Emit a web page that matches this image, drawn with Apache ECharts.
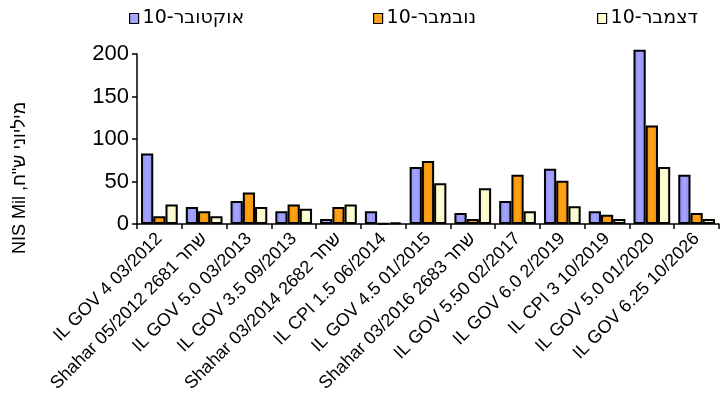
<!DOCTYPE html>
<html><head><meta charset="utf-8">
<script src="https://cdn.jsdelivr.net/npm/echarts@6/dist/echarts.min.js"></script>
<style>html,body{margin:0;padding:0;background:#fff}#c{width:722px;height:403px}</style>
</head><body><div id="c"></div>
<script>
var categories = [
  "IL GOV 4 03/2012",
  "Shahar 05/2012 2681 שחר",
  "IL GOV 5.0 03/2013",
  "IL GOV 3.5 09/2013",
  "Shahar 03/2014 2682 שחר",
  "IL CPI 1.5 06/2014",
  "IL GOV 4.5 01/2015",
  "Shahar 03/2016 2683 שחר",
  "IL GOV 5.50 02/2017",
  "IL GOV 6.0 2/2019",
  "IL CPI 3 10/2019",
  "IL GOV 5.0 01/2020",
  "IL GOV 6.25 10/2026"
];
var seriesNames = ["10-אוקטובר", "10-נובמבר", "10-דצמבר"];
var octValues = [83, 20, 27, 15, 6, 15, 67, 13, 27, 65, 15, 205, 58];
var novValues = [9, 15, 37, 23, 20, 0.5, 74, 6, 58, 51, 11, 116, 13];
var decValues = [23, 9, 20, 18, 23, 2, 48, 42, 15, 21, 6, 67, 6];
var yTicks = [0, 50, 100, 150, 200];
var yTitle = "NIS Mil ,מיליוני ש\"ח";

var colors = [["#8c8cf5", "#a5a5ff"], ["#f29100", "#ffa31a"], ["#f2f2c0", "#ffffd6"]];
var font = "'Liberation Sans', Arial, sans-serif";
var chart = echarts.init(document.getElementById('c'));
function legend(i, left) {
  return {
    data: [seriesNames[i]], left: left, top: 4, itemWidth: 9, itemHeight: 10,
    icon: 'rect', itemGap: 0,
    itemStyle: { color: colors[i][1], borderColor: '#000', borderWidth: 1.2 },
    textStyle: { fontFamily: "'DejaVu Sans', sans-serif", fontSize: 19, color: '#000', padding: [0, 0, 0, -1] }
  };
}
function grad(c) {
  return new echarts.graphic.LinearGradient(0, 0, 1, 0, [
    { offset: 0, color: c[0] }, { offset: 0.5, color: c[1] }, { offset: 1, color: c[0] }
  ]);
}
var vals = [octValues, novValues, decValues];
chart.setOption({
  animation: false,
  legend: [legend(0, 124), legend(1, 368), legend(2, 592)],
  grid: { left: 137, right: 3, top: 54, bottom: 179, containLabel: false },
  graphic: [{
    type: 'text', x: 20, y: 178, rotation: Math.PI / 2,
    style: { text: yTitle, align: 'center', verticalAlign: 'middle',
      font: "18px 'Liberation Sans', Arial, sans-serif", fill: '#000' }
  }],
  xAxis: {
    type: 'category', data: categories,
    axisLine: { lineStyle: { color: '#000', width: 1.5 } },
    axisTick: { show: true, length: 5, lineStyle: { color: '#000', width: 1.5 }, alignWithLabel: false },
    axisLabel: { rotate: 45, interval: 0, fontFamily: font, fontSize: 18, color: '#000', margin: 12 }
  },
  yAxis: {
    type: 'value', min: 0, max: 200, interval: 50,
    axisLine: { show: true, lineStyle: { color: '#000', width: 1.5 } },
    axisTick: { show: true, length: 5, lineStyle: { color: '#000', width: 1.5 } },
    axisLabel: { fontFamily: font, fontSize: 22, color: '#000', margin: 8,
      formatter: function (v) { return yTicks.indexOf(v) >= 0 ? String(v) : ''; } },
    splitLine: { show: false }
  },
  series: vals.map(function (v, i) {
    return {
      name: seriesNames[i], type: 'bar', data: v, clip: false,
      barGap: '0%', barCategoryGap: '18%',
      itemStyle: { color: grad(colors[i]), borderColor: '#000', borderWidth: 2 }
    };
  })
});
</script></body></html>
